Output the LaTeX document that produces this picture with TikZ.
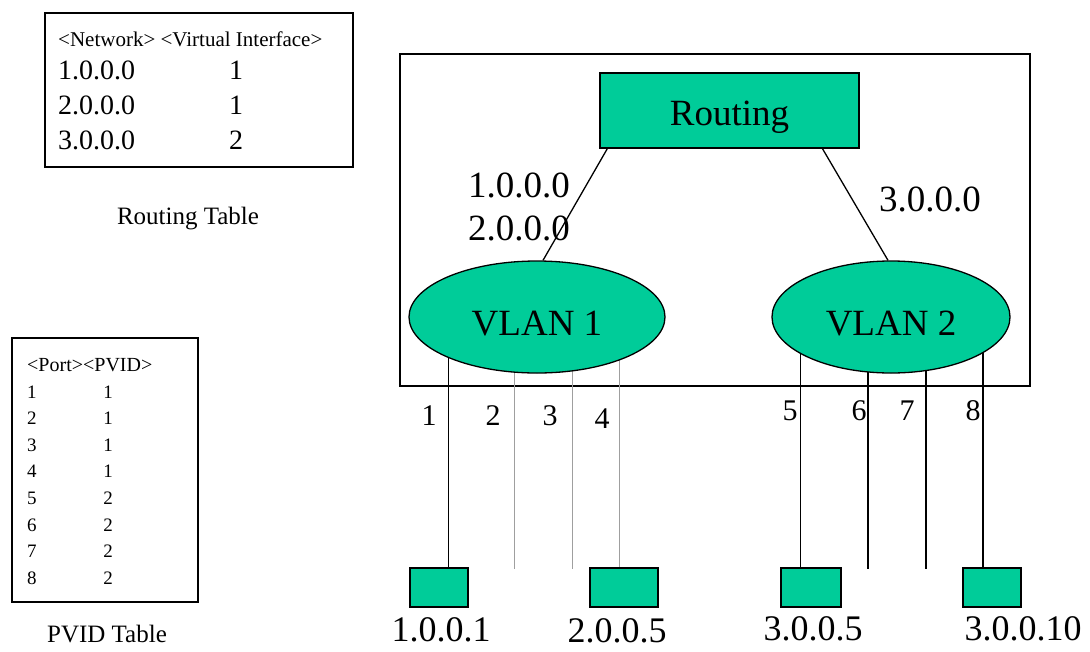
\documentclass[tikz,border=0pt]{standalone}
\usepackage{fontspec}
\setmainfont{Liberation Serif}
\usetikzlibrary{shapes.geometric,calc}
\definecolor{vgreen}{RGB}{0,204,153}

\begin{document}
\begin{tikzpicture}[x=1pt, y=-1pt,
  frame/.style={draw, line width=1.8pt, inner sep=0pt},
  tbl/.style={draw, line width=2.4pt, inner sep=0pt},
  host/.style={draw, fill=vgreen, line width=1.8pt, minimum height=39pt, inner sep=0pt},
  vlan/.style={ellipse, draw, fill=vgreen, line width=1.3pt, inner sep=0pt,
    minimum height=112pt, text height=36pt, text depth=0pt,
    font=\fontsize{37}{40}\selectfont},
  big/.style={font=\fontsize{37}{40}\selectfont, inner sep=0pt},
  portlbl/.style={font=\fontsize{30}{32}\selectfont, inner sep=0pt, anchor=base},
  hostlbl/.style={font=\fontsize{36}{38}\selectfont, inner sep=0pt, anchor=base},
  head/.style={font=\fontsize{21}{23}\selectfont, inner sep=0pt, anchor=base west},
  rtxt/.style={font=\fontsize{28}{30}\selectfont, inner sep=0pt},
  ptxt/.style={font=\fontsize{19}{21}\selectfont, inner sep=0pt},
  caption/.style={font=\fontsize{25}{27}\selectfont, inner sep=0pt, anchor=base},
  link/.style={line width=1.3pt},
  port/.style={line width=0.8pt},
  portgray/.style={line width=0.8pt, gray!75},
  portthick/.style={line width=1.4pt}
]
\useasboundingbox (0,0) rectangle (1090,651);

% routing table
\node[tbl, minimum width=308pt, minimum height=154pt] (rtab) at (199,90) {};
\node[head] (rhead) at (58,46) {<Network> <Virtual Interface>};
\foreach \n/\v/\y in {1/1/79,2/1/114,3/2/149} {
  \node[rtxt, anchor=base west] (net\n) at (58,\y) {\n.0.0.0};
  \node[rtxt, anchor=base] (vif\n) at (236,\y) {\v};
}
\node[caption] (rcap) at (188,224) {Routing Table};

% pvid table
\node[tbl, minimum width=186pt, minimum height=264pt] (ptab) at (105,470) {};
\node[head, font=\fontsize{20}{22}\selectfont] (phead) at (27,371) {<Port><PVID>};
\foreach \p/\v in {1/1,2/1,3/1,4/1,5/2,6/2,7/2,8/2} {
  \node[ptxt, anchor=base west] (pp\p) at (27,{398+(\p-1)*26.6}) {\p};
  \node[ptxt, anchor=base] (pv\p) at (108,{398+(\p-1)*26.6}) {\v};
}
\node[caption] (pcap) at (107,642) {PVID Table};

% switch
\node[frame, minimum width=630pt, minimum height=332pt] (sw) at (715,220) {};

% hosts
\node[host, minimum width=58pt] (h1) at (439,587.5) {};
\node[host, minimum width=68pt] (h2) at (624,587.5) {};
\node[host, minimum width=60pt] (h3) at (811,587.5) {};
\node[host, minimum width=58pt] (h4) at (992,587.5) {};
\node[hostlbl] (a1) at (441,641) {1.0.0.1};
\node[hostlbl] (a2) at (617,642) {2.0.0.5};
\node[hostlbl] (a3) at (813,640) {3.0.0.5};
\node[hostlbl] (a4) at (1023,640) {3.0.0.10};

% ports
\foreach \n/\x/\y in {1/448/355,2/514/370,3/572/369,4/619/358,5/800/351,6/868/370,7/926/369,8/983/351}
  \coordinate (p\n) at (\x,\y);
\foreach \n/\x in {2/514,3/572,6/868,7/926}
  \coordinate (e\n) at (\x,569);
\draw[port] (p1) -- (p1 |- h1.north);
\draw[portgray] (p2) -- (e2);
\draw[portgray] (p3) -- (e3);
\draw[portgray] (p4) -- (p4 |- h2.north);
\draw[port] (p5) -- (p5 |- h3.north);
\draw[portthick] (p6) -- (e6);
\draw[portthick] (p7) -- (e7);
\draw[portthick] (p8) -- (p8 |- h4.north);
\foreach \n/\x/\y in {1/429/425,2/493/425,3/550/425,4/602/428,5/790/420,6/859/420,7/907/420,8/973/420}
  \node[portlbl] (pl\n) at (\x,\y) {\n};

% vlans and routing
\node[vlan, minimum width=256pt] (v1) at (537,317) {VLAN 1};
\node[vlan, minimum width=238pt] (v2) at (891,317) {VLAN 2};
\node[host, minimum width=259pt, minimum height=75pt, big, text height=29pt, text depth=0pt] (rt) at (729.5,110.5) {Routing};

\draw[link] ($(rt.south west)!0.031!(rt.south east)$) -- ($(v1.north)+(6,0)$);
\draw[link] ($(rt.south west)!0.857!(rt.south east)$) -- ($(v2.north)+(-3,0)$);
\node[big, anchor=base west] (lnA) at (468,197) {1.0.0.0};
\node[big, anchor=base west] (lnB) at (468,240) {2.0.0.0};
\node[big, anchor=base west] (lnC) at (879,211) {3.0.0.0};
\end{tikzpicture}
\end{document}
